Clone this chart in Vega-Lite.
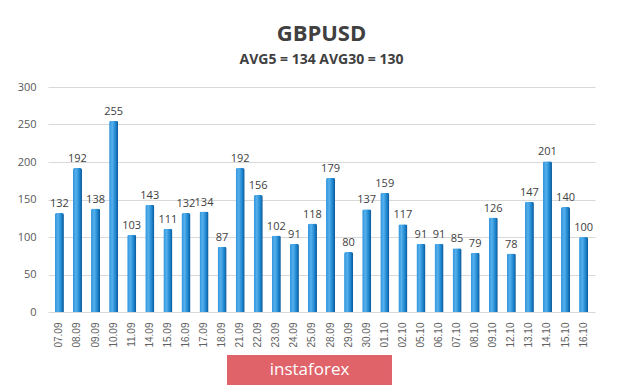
{
  "$schema": "https://vega.github.io/schema/vega-lite/v6.json",
  "background": "white",
  "padding": {"left": 17, "top": 23, "right": 5, "bottom": 0},
  "spacing": 7,
  "center": true,
  "config": {
    "view": {"stroke": null},
    "font": "Open Sans"
  },
  "datasets": {
    "ranges": [
      {"date": "07.09", "value": 132}, {"date": "08.09", "value": 192}, {"date": "09.09", "value": 138},
      {"date": "10.09", "value": 255}, {"date": "11.09", "value": 103}, {"date": "14.09", "value": 143},
      {"date": "15.09", "value": 111}, {"date": "16.09", "value": 132}, {"date": "17.09", "value": 134},
      {"date": "18.09", "value": 87}, {"date": "21.09", "value": 192}, {"date": "22.09", "value": 156},
      {"date": "23.09", "value": 102}, {"date": "24.09", "value": 91}, {"date": "25.09", "value": 118},
      {"date": "28.09", "value": 179}, {"date": "29.09", "value": 80}, {"date": "30.09", "value": 137},
      {"date": "01.10", "value": 159}, {"date": "02.10", "value": 117}, {"date": "05.10", "value": 91},
      {"date": "06.10", "value": 91}, {"date": "07.10", "value": 85}, {"date": "08.10", "value": 79},
      {"date": "09.10", "value": 126}, {"date": "12.10", "value": 78}, {"date": "13.10", "value": 147},
      {"date": "14.10", "value": 201}, {"date": "15.10", "value": 140}, {"date": "16.10", "value": 100}
    ],
    "brand": [{"name": "instaforex"}]
  },
  "vconcat": [
    {
      "width": 547,
      "height": 225,
      "title": {
        "text": "GBPUSD",
        "subtitle": "AVG5 = 134 AVG30 = 130",
        "anchor": "middle",
        "frame": "group",
        "font": "Open Sans",
        "fontSize": 22,
        "fontWeight": "bold",
        "color": "#404040",
        "subtitleFont": "Open Sans",
        "subtitleFontSize": 14,
        "subtitleFontWeight": "bold",
        "subtitleColor": "#404040",
        "subtitlePadding": 7,
        "offset": 13
      },
      "data": {"name": "ranges"},
      "encoding": {
        "x": {
          "field": "date",
          "type": "ordinal",
          "sort": null,
          "scale": {"paddingInner": 0.5, "paddingOuter": 0.38},
          "axis": {
            "title": null,
            "labelAngle": -90,
            "labelFont": "Liberation Sans",
            "labelFontSize": 10,
            "labelColor": "#606060",
            "labelPadding": 10,
            "ticks": false,
            "domain": false
          }
        },
        "y": {
          "field": "value",
          "type": "quantitative",
          "scale": {"domain": [0, 300]},
          "axis": {
            "title": null,
            "values": [0, 50, 100, 150, 200, 250, 300],
            "labelFont": "Open Sans",
            "labelFontSize": 11,
            "labelColor": "#595959",
            "labelPadding": 12,
            "ticks": false,
            "domain": false,
            "gridColor": "#d9d9d9",
            "gridWidth": 1
          }
        }
      },
      "layer": [
        {
          "mark": {
            "type": "bar",
            "cornerRadiusTopLeft": 2,
            "cornerRadiusTopRight": 2,
            "color": {
              "gradient": "linear",
              "x1": 0, "x2": 1, "y1": 0, "y2": 0,
              "stops": [
                {"offset": 0, "color": "#2f93dc"},
                {"offset": 0.35, "color": "#55b0ec"},
                {"offset": 0.75, "color": "#1a82cc"},
                {"offset": 1, "color": "#0b5594"}
              ]
            }
          }
        },
        {
          "mark": {
            "type": "text",
            "baseline": "bottom",
            "dy": -4,
            "font": "Open Sans",
            "fontSize": 11,
            "color": "#404040"
          },
          "encoding": {
            "text": {"field": "value", "type": "quantitative"}
          }
        }
      ]
    },
    {
      "width": 189,
      "height": 30,
      "data": {"name": "brand"},
      "layer": [
        {
          "mark": {"type": "rect", "color": "#e0636a"},
          "encoding": {
            "x": {"datum": 0, "type": "quantitative", "scale": {"domain": [0, 1.1455], "nice": false, "zero": false}, "axis": null},
            "x2": {"datum": 1},
            "y": {"datum": 0, "type": "quantitative", "scale": {"domain": [0, 1]}, "axis": null},
            "y2": {"datum": 1}
          }
        },
        {
          "mark": {"type": "text", "color": "white", "font": "Open Sans", "fontSize": 17, "baseline": "middle", "align": "center"},
          "encoding": {
            "x": {"datum": 0.5, "type": "quantitative"},
            "y": {"datum": 0.5, "type": "quantitative"},
            "text": {"field": "name", "type": "nominal"}
          }
        }
      ]
    }
  ]
}
